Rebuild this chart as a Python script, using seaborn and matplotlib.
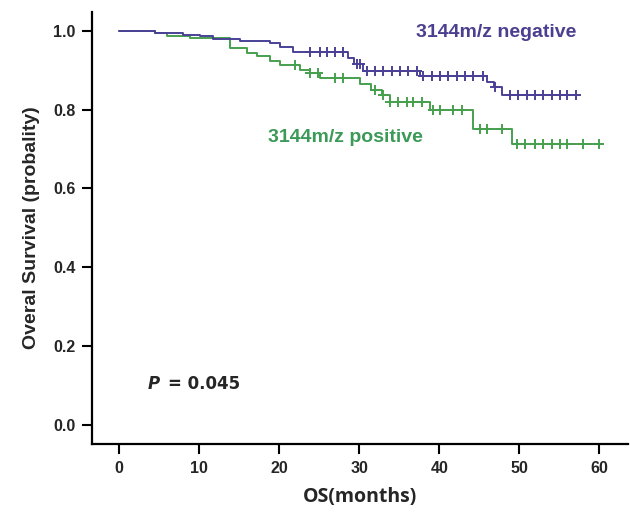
import numpy as np
import pandas as pd
import matplotlib
matplotlib.use("Agg")
import matplotlib.pyplot as plt
import seaborn as sns

# ---- data ----
neg_times = [0, 4.5, 8, 10.1, 11.75, 15.1, 18.9, 20.1, 21.75, 28.6, 29.3, 30.5, 37.6, 46.0, 46.8, 47.9, 57.4]
neg_surv = [1.0, 0.993, 0.990, 0.987, 0.980, 0.975, 0.968, 0.960, 0.945, 0.930, 0.915, 0.898, 0.885, 0.871, 0.858, 0.838, 0.838]
neg_censor = [23.9, 25.1, 26.0, 27.0, 28.0, 29.7, 30.1, 31.0, 32.0, 33.0, 34.1, 35.1, 36.1, 37.2,
              38.0, 39.1, 40.1, 41.1, 42.2, 43.2, 44.2, 45.5, 47.0, 48.9, 49.9, 51.0, 52.0, 53.0,
              54.1, 55.1, 56.0, 57.1]

pos_times = [0, 4.5, 6.0, 8.9, 13.9, 16.0, 17.25, 18.9, 20.1, 22.6, 23.9, 25.1, 30.1, 31.5, 32.9,
             33.8, 38.9, 44.25, 49.1, 60.4]
pos_surv = [1.0, 0.995, 0.987, 0.982, 0.957, 0.944, 0.935, 0.923, 0.912, 0.900, 0.893, 0.879, 0.865,
            0.850, 0.837, 0.820, 0.798, 0.750, 0.712, 0.712]
pos_censor = [22.0, 23.9, 24.9, 27.0, 28.0, 32.0, 33.0, 33.9, 34.9, 36.0, 36.75, 37.9, 39.25, 40.1,
              41.75, 42.9, 45.1, 46.0, 47.9, 49.75, 50.75, 52.0, 53.0, 54.1, 55.1, 56.0, 58.0, 59.9]

x_ticks = [0, 10, 20, 30, 40, 50, 60]
y_ticks = [0.0, 0.2, 0.4, 0.6, 0.8, 1.0]

neg_label = "3144m/z negative"
pos_label = "3144m/z positive"
p_text = "= 0.045"

# ---- styling ----
sns.set_style("ticks")
plt.rcParams["font.family"] = ["Liberation Sans", "DejaVu Sans"]

BLUE = "#4a4196"
GREEN = "#46a04e"
GREEN_TXT = "#3b9a57"
BLUE_TXT = "#4b3f8f"

fig = plt.figure(figsize=(6.3, 5.13), dpi=100)
ax = fig.add_axes([0.146, 0.1345, 0.851, 0.8425])


def step_at(times, surv, t):
    idx = np.searchsorted(np.asarray(times), t, side="right") - 1
    return np.asarray(surv)[idx]


for times, surv, cens, col in [(pos_times, pos_surv, pos_censor, GREEN),
                               (neg_times, neg_surv, neg_censor, BLUE)]:
    df = pd.DataFrame({"t": times, "s": surv})
    sns.lineplot(data=df, x="t", y="s", ax=ax, color=col, lw=1.4,
                 drawstyle="steps-post", estimator=None, sort=False)
    cdf = pd.DataFrame({"t": cens, "s": step_at(times, surv, np.asarray(cens))})
    sns.scatterplot(data=cdf, x="t", y="s", ax=ax, marker="+", s=50,
                    color=col, linewidth=1.4, zorder=3)

ax.set_xlim(-3.4, 63.6)
ax.set_ylim(-0.048, 1.048)
ax.set_xticks(x_ticks)
ax.set_yticks(y_ticks)
ax.set_xticklabels([str(v) for v in x_ticks], fontsize=11.5, fontweight="bold")
ax.set_yticklabels([f"{v:.1f}" for v in y_ticks], fontsize=11.5, fontweight="bold")
ax.tick_params(axis="both", direction="out", length=7, width=1.5, color="black", pad=5)

for s in ["top", "right"]:
    ax.spines[s].set_visible(False)
for s in ["left", "bottom"]:
    ax.spines[s].set_linewidth(1.6)
    ax.spines[s].set_color("black")

ax.set_xlabel("OS(months)", fontsize=14, fontweight="bold", family=["Open Sans", "DejaVu Sans"],
              labelpad=8)
ax.set_ylabel("Overal Survival (probality)", fontsize=14, fontweight="bold", labelpad=9)

ax.text(37.1, 0.995, neg_label, color=BLUE_TXT, fontsize=14, fontweight="bold",
        ha="left", va="center")
ax.text(18.6, 0.728, pos_label, color=GREEN_TXT, fontsize=14, fontweight="bold",
        ha="left", va="center")
ax.text(3.6, 0.105, "P", fontsize=12, fontweight="bold", style="italic",
        family=["DejaVu Sans"], ha="left", va="center")
ax.text(6.1, 0.105, p_text, fontsize=12, fontweight="bold",
        family=["DejaVu Sans"], ha="left", va="center")

fig.savefig("out.png", dpi=100)
